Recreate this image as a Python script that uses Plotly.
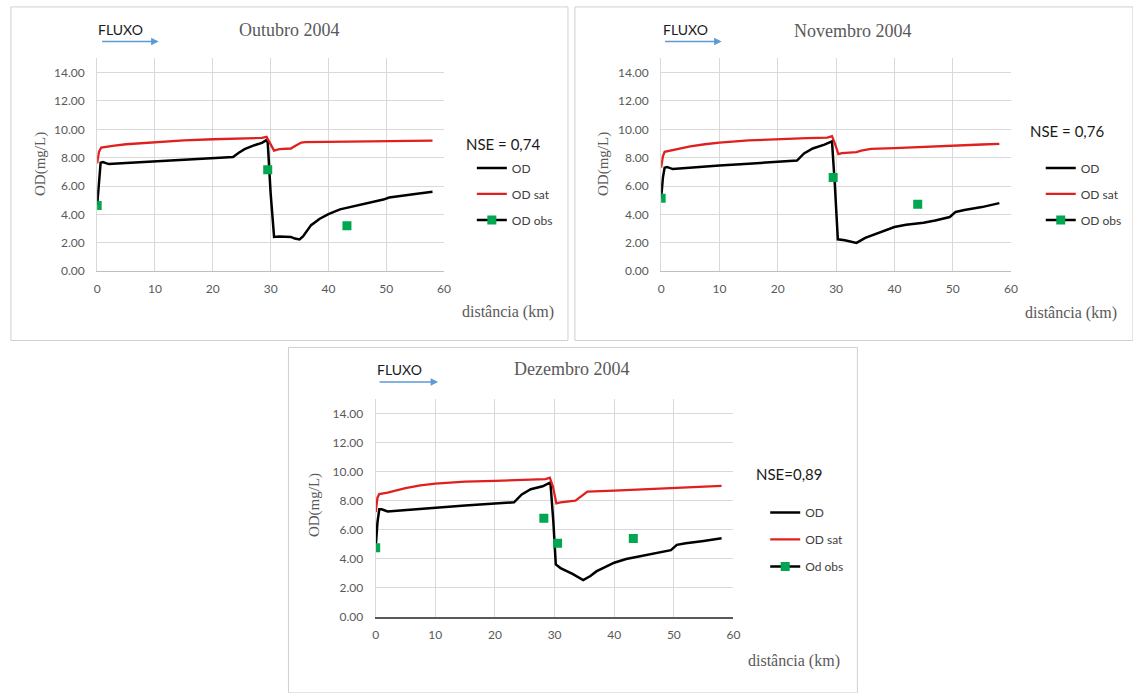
import plotly.graph_objects as go

W, H = 1133, 693

# ---------------- data ----------------
# Outubro 2004
out_od_km = [0, 0.3, 0.6, 1.0, 2.0, 5, 10, 15, 20, 23.5, 24.5, 25.5, 27, 28.5, 29.2, 29.5, 30.0, 30.6,
             31.5, 33.5, 34.2, 35.0, 35.6, 36.2, 37.0, 38.5, 40, 42, 44, 46, 48, 49.5, 50.5, 52, 55, 58]
out_od = [4.65, 6.5, 7.65, 7.7, 7.55, 7.62, 7.75, 7.87, 7.98, 8.05, 8.35, 8.6, 8.85, 9.05, 9.22, 9.1, 5.5, 2.42,
          2.45, 2.42, 2.3, 2.24, 2.45, 2.8, 3.25, 3.7, 4.03, 4.36, 4.55, 4.77, 4.95, 5.05, 5.2, 5.3, 5.45, 5.6]
out_sat_km = [0, 0.3, 0.7, 1.5, 3, 5, 7.5, 10, 15, 20, 25, 28.5, 29.3, 29.8, 30.6, 31.5, 33.5, 34.3, 35.3,
              36, 40, 45, 50, 55, 58]
out_sat = [7.6, 8.4, 8.72, 8.75, 8.85, 8.95, 9.03, 9.1, 9.22, 9.3, 9.36, 9.4, 9.47, 9.1, 8.5, 8.6, 8.65, 8.85,
           9.07, 9.1, 9.12, 9.15, 9.17, 9.18, 9.2]
out_obs_km = [0, 29.5, 43.2]
out_obs = [4.63, 7.15, 3.2]

# Novembro 2004
nov_od_km = [0, 0.3, 0.6, 1.0, 2.0, 5, 10, 15, 20, 23.3, 24.5, 26, 28, 29.0, 29.3, 29.8, 30.3, 31.5, 33.5,
             35, 37.5, 40, 42, 45, 47, 49.5, 50.5, 52, 55, 58]
nov_od = [5.15, 6.6, 7.3, 7.35, 7.2, 7.3, 7.45, 7.58, 7.72, 7.8, 8.3, 8.65, 8.92, 9.1, 9.15, 6.0, 2.25, 2.18,
          2.0, 2.35, 2.75, 3.12, 3.28, 3.42, 3.58, 3.82, 4.18, 4.32, 4.52, 4.8]
nov_sat_km = [0, 0.3, 0.6, 1.5, 3, 5, 7.5, 10, 15, 20, 25, 28.5, 29.3, 29.8, 30.4, 31.0, 33.5, 34.3, 35.2,
              36, 40, 45, 50, 55, 58]
nov_sat = [7.3, 8.1, 8.42, 8.5, 8.62, 8.8, 8.95, 9.07, 9.22, 9.32, 9.38, 9.42, 9.52, 9.0, 8.25, 8.32, 8.4,
           8.5, 8.58, 8.62, 8.68, 8.78, 8.87, 8.93, 8.97]
nov_obs_km = [0, 29.5, 44]
nov_obs = [5.15, 6.6, 4.72]

# Dezembro 2004
dez_od_km = [0, 0.3, 0.6, 1.0, 2.0, 5, 10, 15, 20, 23.2, 24.5, 26, 28, 29.0, 29.3, 29.8, 30.2, 31, 33, 34.8,
             36, 37, 38.5, 40, 42, 44, 46, 48, 49.5, 50.5, 52, 55, 58]
dez_od = [4.75, 6.5, 7.4, 7.4, 7.25, 7.35, 7.52, 7.66, 7.8, 7.88, 8.42, 8.78, 8.98, 9.15, 9.25, 6.5, 3.6,
          3.35, 2.95, 2.52, 2.8, 3.12, 3.4, 3.72, 3.97, 4.13, 4.3, 4.48, 4.58, 4.95, 5.06, 5.22, 5.4]
dez_sat_km = [0, 0.3, 0.6, 2, 5, 7.5, 10, 15, 20, 25, 28.5, 29.2, 29.7, 30.3, 31, 33.5, 34.5, 35.5, 40, 45,
              50, 55, 58]
dez_sat = [7.2, 8.2, 8.45, 8.55, 8.85, 9.05, 9.17, 9.3, 9.36, 9.42, 9.48, 9.58, 9.0, 7.8, 7.87, 8.0, 8.33,
           8.62, 8.68, 8.78, 8.88, 8.96, 9.01]
dez_obs_km = [0, 28.2, 30.5, 43.2]
dez_obs = [4.75, 6.78, 5.06, 5.38]

panel_titles = ["Outubro 2004", "Novembro 2004", "Dezembro 2004"]
nse_labels = ["NSE = 0,74", "NSE = 0,76", "NSE=0,89"]
series_names = ["OD", "OD sat"]
obs_names = ["OD obs", "OD obs", "Od obs"]
x_ticks = [0, 10, 20, 30, 40, 50, 60]
y_ticks = [0, 2, 4, 6, 8, 10, 12, 14]
x_title = "distância (km)"
y_title = "OD(mg/L)"
flow_label = "FLUXO"

data = [
    (out_od_km, out_od, out_sat_km, out_sat, out_obs_km, out_obs),
    (nov_od_km, nov_od, nov_sat_km, nov_sat, nov_obs_km, nov_obs),
    (dez_od_km, dez_od, dez_sat_km, dez_sat, dez_obs_km, dez_obs),
]

# ---------------- layout geometry (pixels) ----------------
panels = [
    dict(plot=(95, 445, 59, 274), box=(8, 570, 7, 344), ytitle=(38, 166), title=(289, 30),
         fluxo=(119, 30), arrow=(99, 157, 42), nse=(465, 145), legend=(473, 155), gap=7,
         dist=(510, 315), base="#bfbfbf"),
    dict(plot=(664, 1017, 59, 274), box=(577, 1140, 7, 344), ytitle=(606, 166), title=(857, 31),
         fluxo=(689, 30), arrow=(667, 725, 42), nse=(1034, 132), legend=(1047, 155), gap=7,
         dist=(1078, 316), base="#bfbfbf"),
    dict(plot=(376, 737, 403, 623), box=(288, 862, 351, 700), ytitle=(315, 510), title=(574, 373),
         fluxo=(400, 373), arrow=(379, 439, 386), nse=(758, 479), legend=(769, 503), gap=8,
         dist=(798, 668), base="#595959"),
]


def fx(px):
    return px / W


def fy(py):
    return 1 - py / H


SANS = "Lato, 'Open Sans', sans-serif"
SERIF = "'Liberation Serif', 'Times New Roman', serif"
GRAY = "#595959"
GRID = "#d9d9d9"
RED = "#e0201e"
GREEN = "#00a650"

fig = go.Figure()
shapes = []
annotations = []
layout_axes = {}

for i, (p, d, title, nse, obsname) in enumerate(zip(panels, data, panel_titles, nse_labels, obs_names)):
    n = "" if i == 0 else str(i + 1)
    xa, ya = "x" + n, "y" + n
    leg = "legend" + n
    od_km, od, sat_km, sat, obs_km, obs = d

    fig.add_trace(go.Scatter(x=od_km, y=od, mode="lines", name=series_names[0],
                             line=dict(color="#000000", width=2.5), xaxis=xa, yaxis=ya,
                             legend=leg, legendgroup=f"od{i}"))
    fig.add_trace(go.Scatter(x=sat_km, y=sat, mode="lines", name=series_names[1],
                             line=dict(color=RED, width=2.3), xaxis=xa, yaxis=ya,
                             legend=leg, legendgroup=f"sat{i}"))
    fig.add_trace(go.Scatter(x=obs_km, y=obs, mode="markers", name=obsname,
                             marker=dict(symbol="square", size=9, color=GREEN), xaxis=xa, yaxis=ya,
                             showlegend=False, legendgroup=f"obs{i}"))
    # legend entry (line with marker, as in the original legend)
    fig.add_trace(go.Scatter(x=[None], y=[None], mode="lines+markers", name=obsname,
                             line=dict(color="#000000", width=2.5),
                             marker=dict(symbol="square", size=9, color=GREEN),
                             xaxis=xa, yaxis=ya, legend=leg, legendgroup=f"obs{i}"))

    x0, x1, y0, y1 = p["plot"]
    layout_axes["xaxis" + n] = dict(
        domain=[fx(x0), fx(x1)], anchor=ya, range=[0, 60], tickvals=x_ticks,
        showgrid=True, gridcolor=GRID, gridwidth=1, zeroline=False,
        showline=True, linecolor=p["base"], linewidth=1.5 if i == 2 else 1,
        ticks="", ticklabelstandoff=6,
        tickfont=dict(family=SANS, size=12, color=GRAY), fixedrange=True)
    layout_axes["yaxis" + n] = dict(
        domain=[fy(y1), fy(y0)], anchor=xa, range=[0, 15], tickvals=y_ticks, tickformat=".2f",
        showgrid=True, gridcolor=GRID, gridwidth=1, zeroline=False,
        showline=True, linecolor=GRID, linewidth=1,
        ticks="", ticklabelstandoff=9,
        tickfont=dict(family=SANS, size=12, color=GRAY), fixedrange=True)

    lx, ly = p["legend"]
    layout_axes[leg] = dict(x=fx(lx), y=fy(ly), xanchor="left", yanchor="top",
                            xref="paper", yref="paper",
                            font=dict(family=SANS, size=12, color="#404040"),
                            bgcolor="rgba(0,0,0,0)", traceorder="grouped", tracegroupgap=p["gap"])

    bx0, bx1, by0, by1 = p["box"]
    shapes.append(dict(type="rect", xref="paper", yref="paper", x0=fx(bx0), x1=fx(bx1),
                       y0=fy(by1), y1=fy(by0), line=dict(color="#d0d0d0", width=1),
                       fillcolor="rgba(0,0,0,0)", layer="below"))

    tx, ty = p["ytitle"]
    annotations.append(dict(text=y_title, x=fx(tx), y=fy(ty), xref="paper", yref="paper",
                            textangle=-90, showarrow=False, xanchor="center", yanchor="middle",
                            font=dict(family=SERIF, size=15, color=GRAY)))
    tx, ty = p["title"]
    annotations.append(dict(text=title, x=fx(tx), y=fy(ty), xref="paper", yref="paper",
                            showarrow=False, xanchor="center", yanchor="middle",
                            font=dict(family=SERIF, size=18, color=GRAY)))
    tx, ty = p["fluxo"]
    annotations.append(dict(text=flow_label, x=fx(tx), y=fy(ty), xref="paper", yref="paper",
                            showarrow=False, xanchor="center", yanchor="middle",
                            font=dict(family=SANS, size=14, color="#1a1a1a")))
    ax0, ax1, ay = p["arrow"]
    annotations.append(dict(text="", x=fx(ax1), y=fy(ay), xref="paper", yref="paper",
                            showarrow=True, ax=-(ax1 - ax0), ay=0, axref="pixel", ayref="pixel",
                            arrowhead=2, arrowsize=1, arrowwidth=1.5, arrowcolor="#5b9bd5"))
    tx, ty = p["nse"]
    annotations.append(dict(text=nse, x=fx(tx), y=fy(ty), xref="paper", yref="paper",
                            showarrow=False, xanchor="left", yanchor="middle",
                            font=dict(family=SANS, size=15, color="#1a1a1a")))
    tx, ty = p["dist"]
    annotations.append(dict(text=x_title, x=fx(tx), y=fy(ty), xref="paper", yref="paper",
                            showarrow=False, xanchor="center", yanchor="middle",
                            font=dict(family=SERIF, size=16, color=GRAY)))

fig.update_layout(
    width=W, height=H, margin=dict(l=0, r=0, t=0, b=0),
    paper_bgcolor="#ffffff", plot_bgcolor="#ffffff",
    shapes=shapes, annotations=annotations, showlegend=True,
    **layout_axes,
)

fig.write_html("out.html", config={"displayModeBar": False},
               post_script="document.body.style.margin='0';document.body.style.overflow='hidden';")
